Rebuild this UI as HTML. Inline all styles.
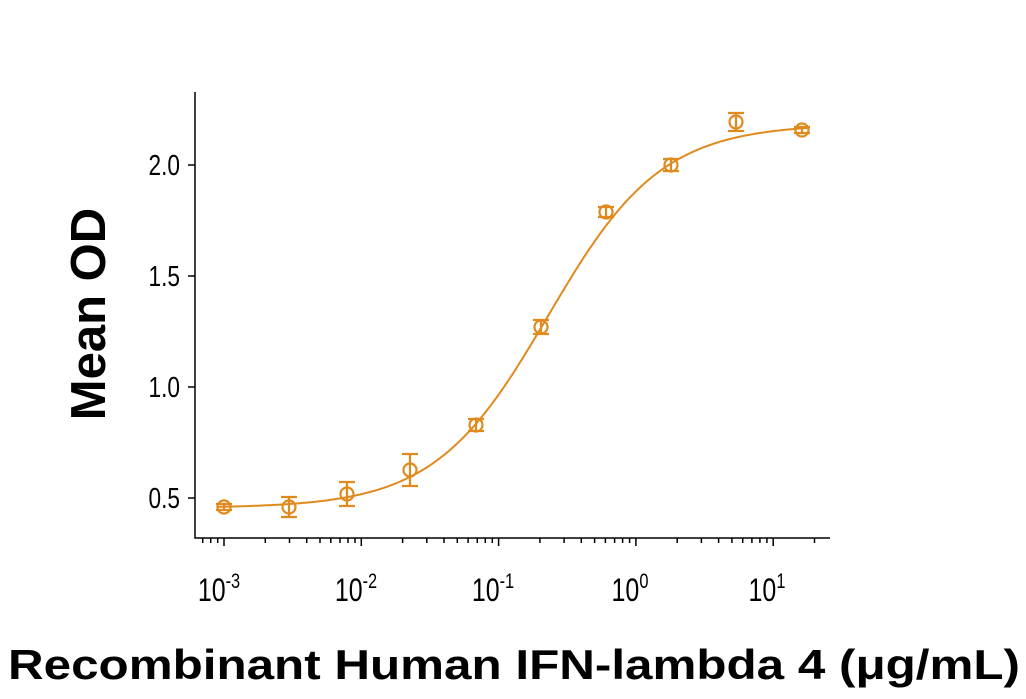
<!DOCTYPE html>
<html><head><meta charset="utf-8"><style>
html,body{margin:0;padding:0;background:#fff;}
svg{display:block;}
.t{font-family:"Liberation Sans Narrow","Liberation Sans",sans-serif;fill:#000;}
</style></head><body>
<svg id="s" width="1026" height="699" viewBox="0 0 1026 699" xmlns="http://www.w3.org/2000/svg">
<g stroke="#000" stroke-width="1.5" fill="none">
<path d="M195,92 V538 H830"/>
<path d="M195,165 H188 M195,276 H188 M195,387 H188 M195,498 H188"/>
<path id="xt" d=""/>
</g>
<g class="t" text-anchor="end" font-size="29">
<text transform="translate(180,175) scale(0.78,1)">2.0</text>
<text transform="translate(180,286) scale(0.78,1)">1.5</text>
<text transform="translate(180,397) scale(0.78,1)">1.0</text>
<text transform="translate(180,508) scale(0.78,1)">0.5</text>
</g>
<g class="t" text-anchor="middle" font-size="32">
<text transform="translate(219,601) scale(0.78,1)">10<tspan dy="-13" font-size="21">-3</tspan></text>
<text transform="translate(356,601) scale(0.78,1)">10<tspan dy="-13" font-size="21">-2</tspan></text>
<text transform="translate(493,601) scale(0.78,1)">10<tspan dy="-13" font-size="21">-1</tspan></text>
<text transform="translate(630,601) scale(0.78,1)">10<tspan dy="-13" font-size="21">0</tspan></text>
<text transform="translate(767,601) scale(0.78,1)">10<tspan dy="-13" font-size="21">1</tspan></text>
</g>
<text transform="translate(105,314) rotate(-90)" text-anchor="middle" font-family="Liberation Sans,sans-serif" font-weight="bold" font-size="49">Mean OD</text>
<text x="8" y="679" textLength="1012" lengthAdjust="spacingAndGlyphs" font-family="Liberation Sans,sans-serif" font-weight="bold" font-size="42">Recombinant Human IFN-lambda 4 (μg/mL)</text>
<path id="curve" fill="none" stroke="#E08A1E" stroke-width="2" d=""/>
<g id="pts" fill="none" stroke="#E08A1E" stroke-width="2.2"></g>
</svg>
<script>
var X=function(l){return 224+(l+3)*137.3;};
var d="";
for(var dec=-4;dec<=1;dec++)for(var m=1;m<=9;m++){var l=dec+Math.log10(m);var x=X(l);if(x<196||x>830)continue;var len=(m==1)?8:5;d+="M"+x.toFixed(1)+",538 v"+len+" ";}
document.getElementById("xt").setAttribute("d",d);
var c="";
for(var x=218;x<=808;x+=2){var l=-3+(x-224)/137.3;var y=508-384/(1+Math.pow(10,(-0.64-l)*1.05));c+=(x==218?"M":"L")+x+","+y.toFixed(1)+" ";}
document.getElementById("curve").setAttribute("d",c);
var P=[[224,507,3],[289,507,10],[347,494,12],[410,470,16],[476,425,6],[541,327,7],[606,212,5],[671,165,6],[736,122,9],[802,130,3]];
var g="";
P.forEach(function(p){g+='<circle cx="'+p[0]+'" cy="'+p[1]+'" r="6.5"/>';g+='<path d="M'+p[0]+','+(p[1]-p[2])+'V'+(p[1]+p[2])+'M'+(p[0]-8)+','+(p[1]-p[2])+'h16M'+(p[0]-8)+','+(p[1]+p[2])+'h16"/>';});
document.getElementById("pts").innerHTML=g;
</script>
</body></html>
